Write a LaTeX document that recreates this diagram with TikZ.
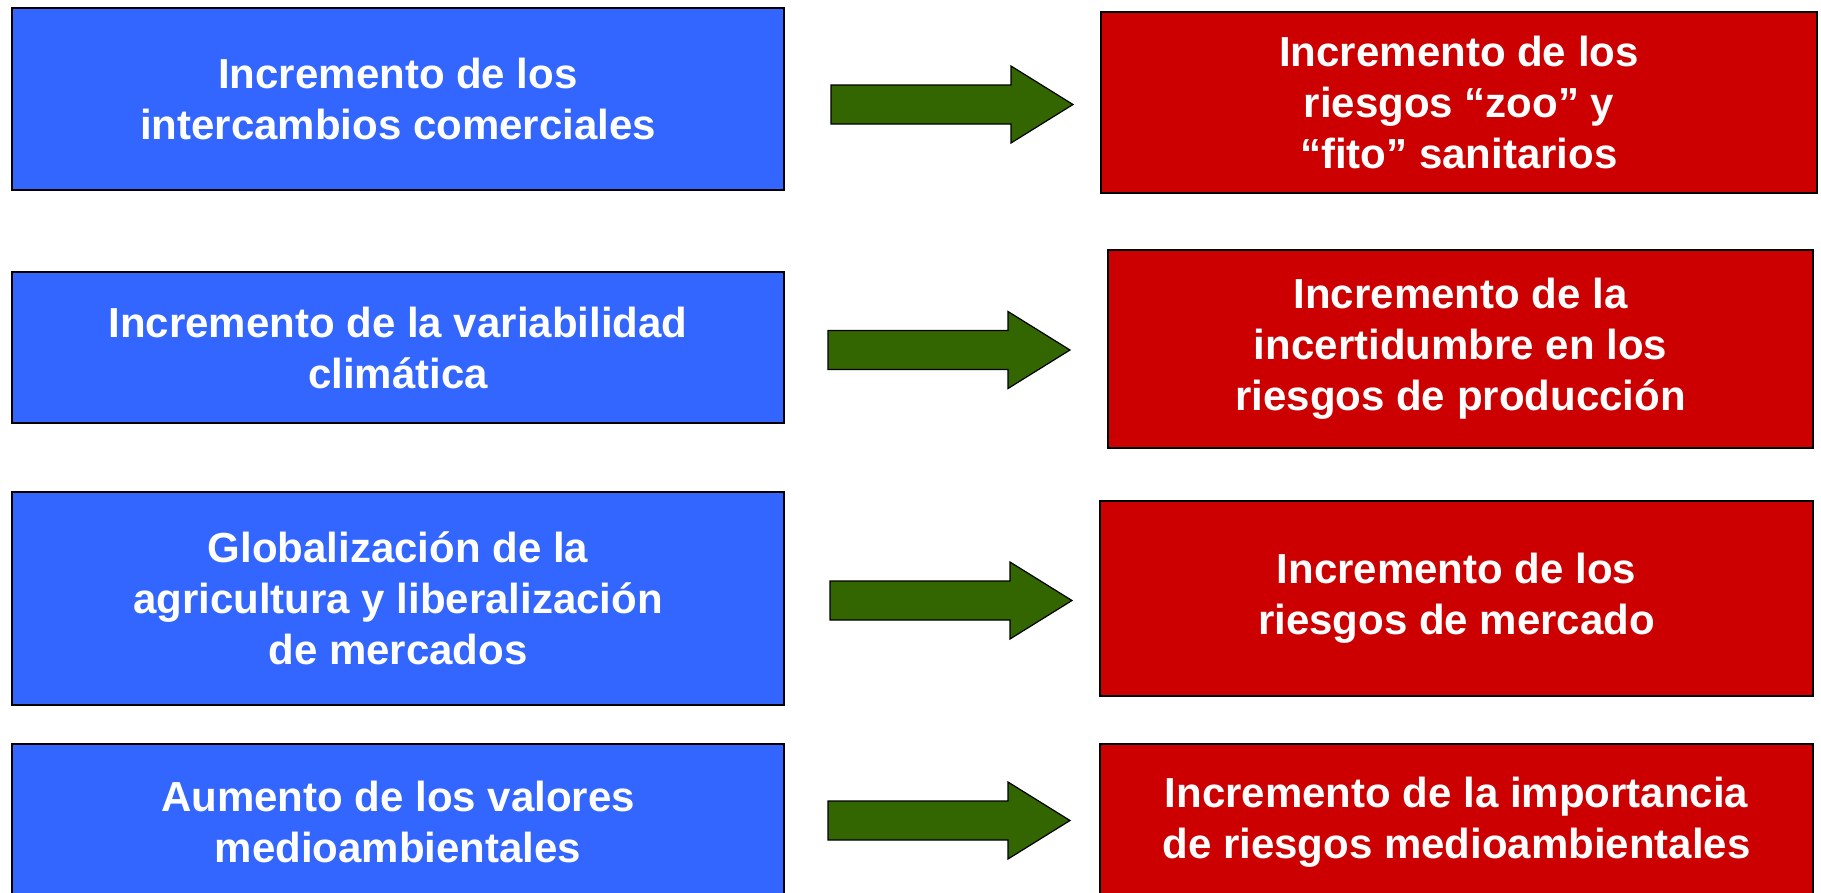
\documentclass[tikz,border=0pt]{standalone}
\usepackage{fontspec}
\setmainfont{Liberation Sans}
\definecolor{azul}{HTML}{3366FF}
\definecolor{rojo}{HTML}{CC0000}
\definecolor{verde}{HTML}{336600}
\tikzset{
  caja/.style={draw=black, line width=1.3pt, rectangle, inner sep=0pt, align=center,
    text=white, font=\fontsize{42}{51}\selectfont\bfseries},
  causa/.style={caja, fill=azul, minimum width=772},
  efecto/.style={caja, fill=rojo},
  flecha/.style={fill=verde, draw=black, line width=1.2pt, line join=miter}
}
\begin{document}
\begin{tikzpicture}[x=1pt, y=-1pt]
  \useasboundingbox (0,0) rectangle (1821,892);
  \clip (0,0) rectangle (1821,892);
  % causas
  \node[causa, minimum height=182] (b1) at (398,99) {Incremento de los\\intercambios comerciales};
  \node[causa, minimum height=151] (b2) at (398,347.5) {Incremento de la variabilidad\\clim\'atica};
  \node[causa, minimum height=213] (b3) at (398,598.5) {Globalizaci\'on de la\\agricultura y liberalizaci\'on\\de mercados};
  \node[causa, minimum height=156] (b4) at (398,822) {Aumento de los valores\\medioambientales};
  % efectos
  \node[efecto, minimum width=716, minimum height=181] (r1) at (1459,102.5) {Incremento de los\\riesgos “zoo” y\\“fito” sanitarios};
  \node[efecto, minimum width=705, minimum height=198] (r2) at (1460.5,349) {Incremento de la\\incertidumbre en los\\riesgos de producci\'on};
  \node[efecto, minimum width=713, minimum height=195] (r3) at (1456.5,598.5) {Incremento de los\\riesgos de mercado};
  \node[efecto, minimum width=713, minimum height=156] (r4) at (1456.5,822) {Incremento de la importancia\\de riesgos medioambientales};
  % flechas
  \foreach \x/\y in {831/104.5, 828/350, 830/600.5, 828/820.5}
    \draw[flecha, shift={(\x,\y)}] (0,-19.5) -- (180,-19.5) -- (180,-38.5) -- (242,0)
      -- (180,38.5) -- (180,19.5) -- (0,19.5) -- cycle;
\end{tikzpicture}
\end{document}
